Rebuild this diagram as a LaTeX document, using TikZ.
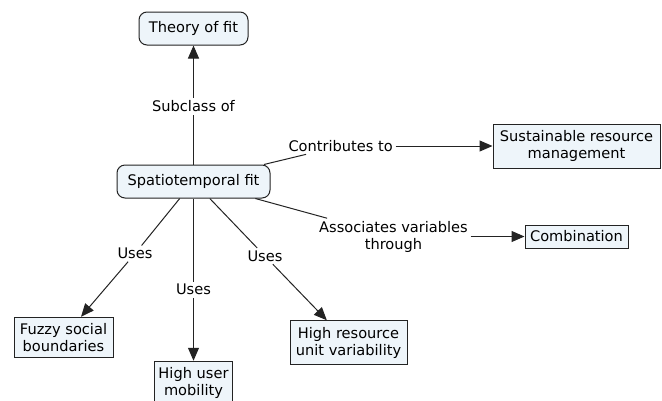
\documentclass[tikz,border=0pt]{standalone}
\usepackage{fontspec}
\setmainfont{DejaVu Sans}
\usetikzlibrary{positioning,arrows.meta}
\definecolor{cmapfill}{RGB}{238,245,250}
\definecolor{cmapline}{RGB}{35,35,35}
\tikzset{concept/.style={draw=cmapline, fill=cmapfill, line width=1pt, rounded corners=8pt, minimum height=33pt, inner sep=2pt, font=\fontsize{14.6}{17}\selectfont},
  term/.style={draw=cmapline, fill=cmapfill, line width=1pt, align=center, inner sep=2pt, font=\fontsize{14.6}{17}\selectfont},
  phrase/.style={align=center, inner sep=2.5pt, font=\fontsize{14.6}{17}\selectfont},
  link/.style={draw=cmapline, line width=1pt},
  linkto/.style={link, -{Triangle[length=13pt, width=11pt]}}}

\begin{document}
\begin{tikzpicture}[x=1pt, y=-1pt]
    \useasboundingbox (0,0) rectangle (662,400);
      \node[concept, minimum width=153pt] (spat) at (193.5,181.5) {Spatiotemporal fit};
      \node[concept, minimum width=109pt, above=119pt of spat] (theory) {Theory of fit};
      \node[phrase, above=50pt of spat] (sub) {Subclass of};
      \node[term, minimum width=167pt, minimum height=44pt, right=222pt of spat, yshift=35.5pt] (sust) {Sustainable resource\\management};
      \node[term, minimum width=103pt, minimum height=23pt, below=56pt of sust] (comb) {Combination};
      \node[phrase, left=97pt of sust] (contrib) {Contributes to};
      \node[phrase, left=54pt of comb] (assoc) {Associates variables\\through};
      \node[phrase, below=47pt of spat, xshift=-58.5pt] (usesl) {Uses};
      \node[phrase, below=83pt of spat] (usesm) {Uses};
      \node[phrase, below=49.5pt of spat, xshift=71.5pt] (usesr) {Uses};
      \node[term, minimum width=99pt, minimum height=40pt, below=55pt of usesl, xshift=-71.5pt] (fuzzy) {Fuzzy social\\boundaries};
      \node[term, minimum width=78pt, minimum height=44pt, below=63pt of usesm] (mob) {High user\\mobility};
      \node[term, minimum width=117pt, minimum height=44pt, below=56pt of usesr, xshift=83.5pt] (var) {High resource\\unit variability};

      \draw[link] (spat) -- (sub);
      \draw[linkto] (sub) -- (theory);
      \draw[link] (spat) -- (contrib);
      \draw[linkto] (contrib) -- (sust);
      \draw[link] (spat) -- (assoc);
      \draw[linkto] (assoc) -- (comb);
      \draw[link] (spat) -- (usesl);
      \draw[linkto] (usesl) -- (fuzzy);
      \draw[link] (spat) -- (usesm);
      \draw[linkto] (usesm) -- (mob);
      \draw[link] (spat) -- (usesr);
      \draw[linkto] (usesr) -- (var);
\end{tikzpicture}
\end{document}
